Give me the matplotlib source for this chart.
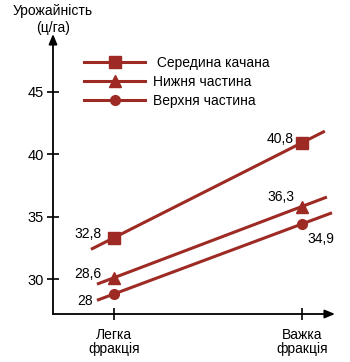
import matplotlib
matplotlib.use("Agg")
import matplotlib.pyplot as plt
import numpy as np

plt.rcParams['font.family'] = ['Liberation Sans', 'DejaVu Sans']

# ---- data ----
categories = ["Легка\nфракція", "Важка\nфракція"]
series_names = [" Середина качана", "Нижня частина", "Верхня частина"]
# marker positions as drawn in the picture
series_values = [
    [33.3, 40.9],   # Середина качана
    [30.1, 35.8],   # Нижня частина
    [28.8, 34.4],   # Верхня частина
]
# printed value labels
series_labels = [
    ["32,8", "40,8"],
    ["28,6", "36,3"],
    ["28", "34,9"],
]
y_ticks = [30, 35, 40, 45]
y_title = "Урожайність\n(ц/га)"

# ---- style ----
color = "#9E2A24"
markers = ["s", "^", "o"]
msizes = [8, 8.5, 7]
ext = [(-0.122, 1.122), (-0.09, 1.133), (-0.09, 1.16)]
label_offsets = [
    [(-9, 3, "right"), (-6, 3, "right")],
    [(-9, 2.5, "right"), (-5.5, 7, "right")],
    [(-15.5, -5, "right"), (4, -11, "left")],
]

fig = plt.figure(figsize=(3.5, 3.62), dpi=100)
W, H = 350, 362
# axes spanning px x 53..335, y 34..314
ax = fig.add_axes([53 / W, 1 - 314 / H, (335 - 53) / W, (314 - 34) / H])
ax.set_xlim(-0.324, 1.176)
ax.set_ylim(27.2, 49.6)

x = np.arange(len(categories))
handles = []
for i, vals in enumerate(series_values):
    v = np.array(vals, dtype=float)
    slope = (v[1] - v[0]) / (x[1] - x[0])
    xs = np.array([ext[i][0], ext[i][1]])
    ys = v[0] + slope * (xs - x[0])
    ax.plot(xs, ys, color=color, lw=2.2, solid_capstyle='butt', zorder=2)
    ax.plot(x, v, linestyle='none', marker=markers[i], ms=msizes[i],
            color=color, zorder=3)
    h, = ax.plot([], [], color=color, lw=2.2, marker=markers[i], ms=msizes[i],
                 label=series_names[i])
    handles.append(h)
    for j in range(len(x)):
        dx, dy, ha = label_offsets[i][j]
        ax.annotate(series_labels[i][j], (x[j], v[j]), xytext=(dx, dy),
                    textcoords='offset points', ha=ha, va='center',
                    fontsize=10, color='black')

for s in ['top', 'right', 'left', 'bottom']:
    ax.spines[s].set_visible(False)

# axes with arrows
ax.annotate('', xy=(0, 1), xytext=(0, 0), xycoords='axes fraction',
            arrowprops=dict(arrowstyle='-|>,head_length=0.6,head_width=0.25',
                            color='black', lw=1.3, shrinkA=0, shrinkB=0))
ax.annotate('', xy=(1, 0), xytext=(0, 0), xycoords='axes fraction',
            arrowprops=dict(arrowstyle='-|>,head_length=0.6,head_width=0.25',
                            color='black', lw=1.3, shrinkA=0, shrinkB=0))

ax.set_yticks(y_ticks)
ax.set_yticklabels([str(t) for t in y_ticks], fontsize=10.5)
ax.set_xticks(x)
ax.set_xticklabels(categories, fontsize=10, linespacing=1.05)
ax.tick_params(axis='y', direction='inout', length=9, width=1.2, pad=2)
ax.tick_params(axis='x', direction='inout', length=8, width=1.2, pad=6)

fig.text(53 / W, 1 - 4 / H, y_title, ha='center', va='top', fontsize=10,
         linespacing=1.3)

ax.legend(handles=handles, loc='upper left',
          bbox_to_anchor=(31 / (335 - 53), 1 - (56 - 34) / (314 - 34)),
          frameon=False, fontsize=10, handlelength=4.4, handletextpad=0.6,
          labelspacing=0.35, borderaxespad=0, borderpad=0)

fig.savefig("out.png", dpi=100)
